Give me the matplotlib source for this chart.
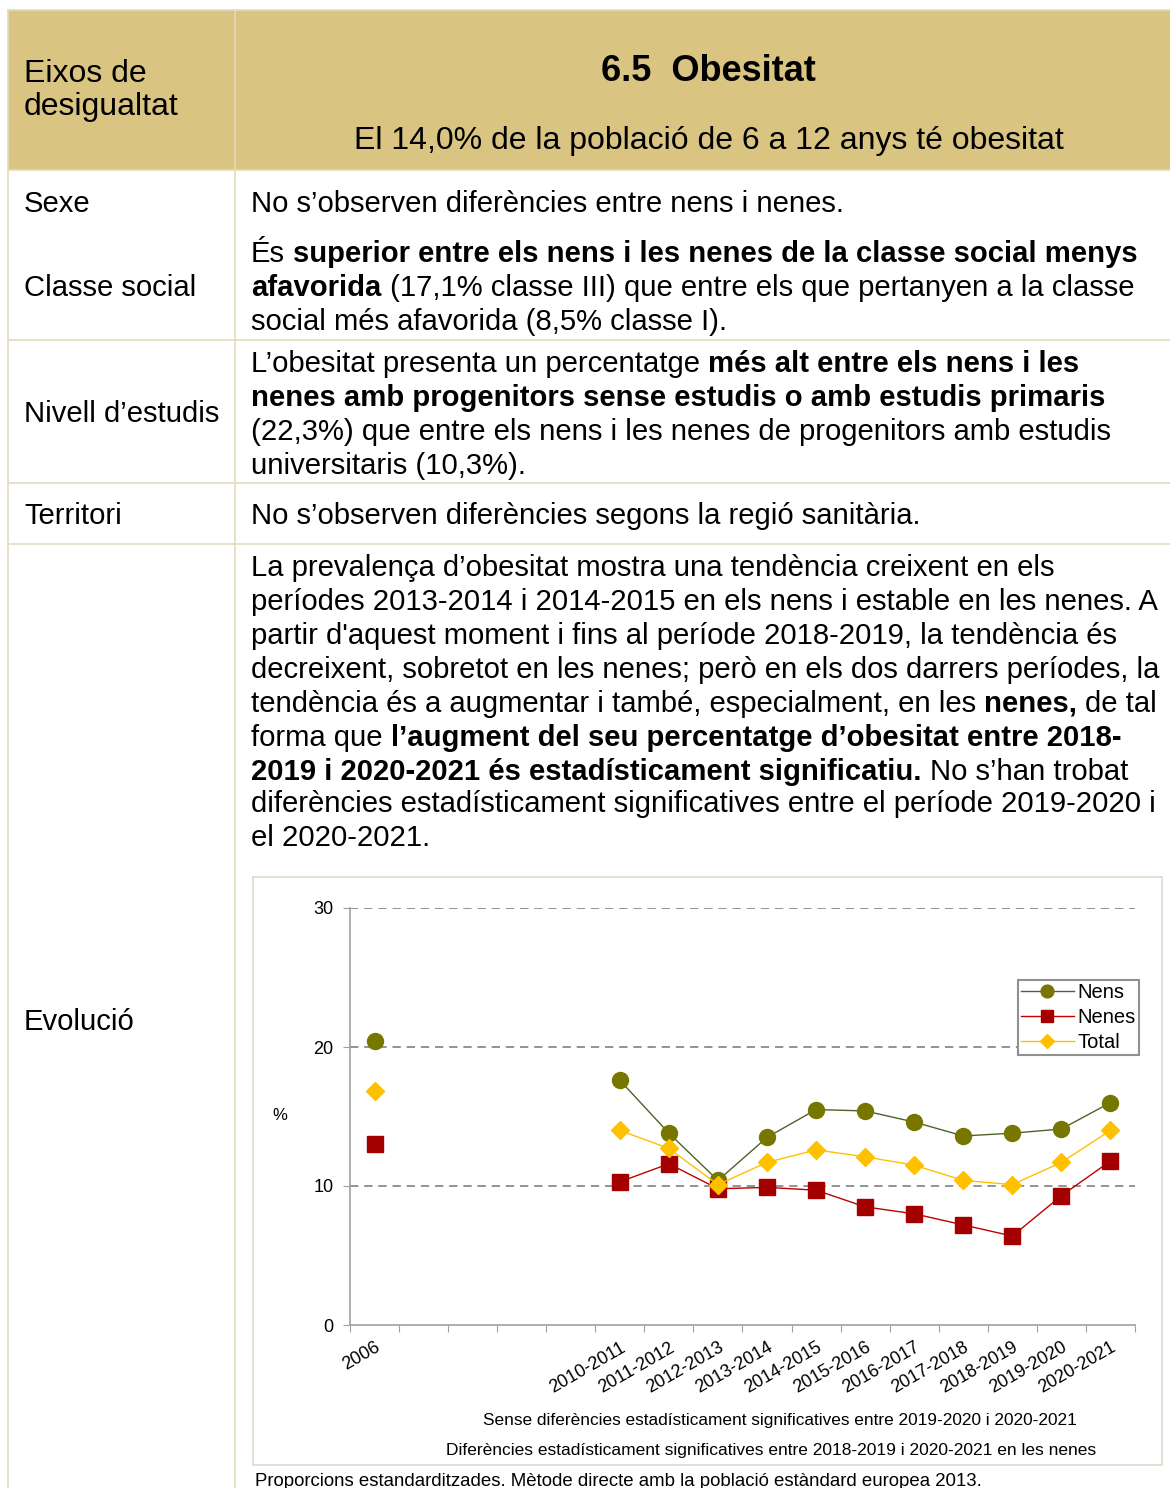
import numpy as np
import matplotlib
matplotlib.use("Agg")
import matplotlib.pyplot as plt
from matplotlib.patches import Rectangle

plt.rcParams['font.family'] = ['Liberation Sans', 'DejaVu Sans']

# ---------------- data ----------------
categories = ["2006", "", "", "", "", "2010-2011", "2011-2012", "2012-2013", "2013-2014",
              "2014-2015", "2015-2016", "2016-2017", "2017-2018", "2018-2019",
              "2019-2020", "2020-2021"]
nan = np.nan
nens = [20.4, nan, nan, nan, nan, 17.6, 13.8, 10.4, 13.5, 15.5, 15.4, 14.6, 13.6, 13.8, 14.1, 16.0]
nenes = [13.0, nan, nan, nan, nan, 10.3, 11.6, 9.8, 9.9, 9.7, 8.5, 8.0, 7.2, 6.4, 9.3, 11.8]
total = [16.8, nan, nan, nan, nan, 14.0, 12.7, 10.1, 11.7, 12.6, 12.1, 11.5, 10.4, 10.1, 11.7, 14.0]
series_names = ["Nens", "Nenes", "Total"]
y_ticks = [0, 10, 20, 30]

title = "6.5  Obesitat"
subtitle = "El 14,0% de la població de 6 a 12 anys té obesitat"
header_left = ["Eixos de", "desigualtat"]
row_labels = ["Sexe", "Classe social", "Nivell d\u2019estudis", "Territori", "Evolució"]

sexe_lines = [[("No s\u2019observen diferències entre nens i nenes.", False)]]
classe_lines = [
    [("És ", False), ("superior entre els nens i les nenes de la classe social menys", True)],
    [("afavorida", True), (" (17,1% classe III) que entre els que pertanyen a la classe", False)],
    [("social més afavorida (8,5% classe I).", False)],
]
nivell_lines = [
    [("L\u2019obesitat presenta un percentatge ", False), ("més alt entre els nens i les", True)],
    [("nenes amb progenitors sense estudis o amb estudis primaris", True)],
    [("(22,3%) que entre els nens i les nenes de progenitors amb estudis", False)],
    [("universitaris (10,3%).", False)],
]
territori_lines = [[("No s\u2019observen diferències segons la regió sanitària.", False)]]
evol_lines = [
    [("La prevalença d\u2019obesitat mostra una tendència creixent en els", False)],
    [("períodes 2013-2014 i 2014-2015 en els nens i estable en les nenes. A", False)],
    [("partir d'aquest moment i fins al període 2018-2019, la tendència és", False)],
    [("decreixent, sobretot en les nenes; però en els dos darrers períodes, la", False)],
    [("tendència és a augmentar i també, especialment, en les ", False), ("nenes,", True), (" de tal", False)],
    [("forma que ", False), ("l\u2019augment del seu percentatge d\u2019obesitat entre 2018-", True)],
    [("2019 i 2020-2021 és estadísticament significatiu.", True), (" No s\u2019han trobat", False)],
    [("diferències estadísticament significatives entre el període 2019-2020 i", False)],
    [("el 2020-2021.", False)],
]
note1 = "Sense diferències estadísticament significatives entre 2019-2020 i 2020-2021"
note2 = "Diferències estadísticament significatives entre 2018-2019 i 2020-2021 en les nenes"
footer = "Proporcions estandarditzades. Mètode directe amb la població estàndard europea 2013."

# ---------------- figure ----------------
W, H = 1170, 1488
fig = plt.figure(figsize=(W / 100, H / 100), dpi=100)
bg = fig.add_axes([0, 0, 1, 1])
bg.set_xlim(0, W)
bg.set_ylim(H, 0)
bg.axis('off')

header_col = '#D9C482'
border_col = '#E3DBBC'
BODY = 21.1
DY = 2.5

# header fill
bg.add_patch(Rectangle((8, 10), W - 8, 160, facecolor=header_col, edgecolor='none', zorder=0))
# borders
for y in [10, 170, 340, 483, 544]:
    bg.plot([8, W], [y, y], color=border_col, lw=1.2, zorder=1)
bg.plot([8, 8], [10, H], color=border_col, lw=1.2, zorder=1)
bg.plot([235, 235], [10, H], color=border_col, lw=1.2, zorder=1)

bg.text(24, 72 + DY, header_left[0], fontsize=23, va='center', ha='left')
bg.text(24, 105 + DY, header_left[1], fontsize=23, va='center', ha='left')
bg.text(708, 69 + DY, title, fontsize=26, fontweight='bold', va='center', ha='center')
bg.text(709, 138 + DY, subtitle, fontsize=23, va='center', ha='center')

for lab, y in zip(row_labels, [201, 286, 412, 514, 1020]):
    bg.text(24, y + DY, lab, fontsize=BODY, va='center', ha='left')

renderer = fig.canvas.get_renderer()
_space = {}


def space_w(bold):
    if bold not in _space:
        w = 'bold' if bold else 'normal'
        t1 = bg.text(0, 0, "a a", fontsize=BODY, fontweight=w)
        t2 = bg.text(0, 0, "aa", fontsize=BODY, fontweight=w)
        _space[bold] = t1.get_window_extent(renderer).width - t2.get_window_extent(renderer).width
        t1.remove(); t2.remove()
    return _space[bold]


def draw_lines(lines, x0, ys):
    for segs, y in zip(lines, ys):
        x = x0
        for s, b in segs:
            lead = len(s) - len(s.lstrip(' '))
            trail = len(s) - len(s.rstrip(' '))
            x += lead * space_w(b)
            core = s.strip(' ')
            t = bg.text(x, y + DY, core, fontsize=BODY, fontweight='bold' if b else 'normal',
                        va='center', ha='left')
            x += t.get_window_extent(renderer).width
            x += trail * space_w(b)


X0 = 251
draw_lines(sexe_lines, X0, [201])
draw_lines(classe_lines, X0, [252, 286, 320])
draw_lines(nivell_lines, X0, [361, 395, 429, 463])
draw_lines(territori_lines, X0, [514])
draw_lines(evol_lines, X0, [566, 600, 634, 667, 701, 735, 769, 802, 836])

# chart frame
bg.add_patch(Rectangle((253, 877), 909, 588, facecolor='white', edgecolor='#DCDACD', lw=1.2, zorder=1))
bg.text(780, 1421, note1, fontsize=12.4, ha='center', va='center')
bg.text(771, 1450, note2, fontsize=12.5, ha='center', va='center')
bg.text(255, 1481, footer, fontsize=13.4, ha='left', va='center')
bg.text(280, 1116, "%", fontsize=12, ha='center', va='center')

# ---------------- chart ----------------
L, R, T, B = 350, 1135, 908, 1325
ax = fig.add_axes([L / W, (H - B) / H, (R - L) / W, (B - T) / H])
ax.set_facecolor('none')
x = np.arange(len(categories))
ax.plot(x, nens, color='#4F6228', lw=1.0, marker='o', ms=11.5, mfc='#777700', mec='#777700',
        label=series_names[0], zorder=3)
ax.plot(x, nenes, color='#C00000', lw=1.0, marker='s', ms=11, mfc='#A50000', mec='#A50000',
        label=series_names[1], zorder=3)
ax.plot(x, total, color='#FFC000', lw=1.0, marker='D', ms=9, mfc='#FFC000', mec='#FFC000',
        label=series_names[2], zorder=4)

ax.set_xlim(-0.5, len(categories) - 0.5)
ax.set_ylim(0, 30)
ax.set_yticks(y_ticks)
ax.set_yticklabels([str(v) for v in y_ticks], fontsize=13)
for v in y_ticks[1:]:
    ax.axhline(v, color='#808080', lw=1.2, ls=(0, (5, 3.5)), zorder=1)
ax.set_xticks(np.arange(len(categories) + 1) - 0.5)
ax.set_xticklabels([''] * (len(categories) + 1))
ax.set_xticks(x, minor=True)
ax.set_xticklabels(categories, minor=True, rotation=30, ha='right', rotation_mode='anchor', fontsize=13)
ax.tick_params(axis='x', which='major', length=5, color='#A0A0A0', direction='out')
ax.tick_params(axis='x', which='minor', length=0, pad=10)
ax.tick_params(axis='y', length=5, color='#A0A0A0', pad=7)
for s in ['top', 'right']:
    ax.spines[s].set_visible(False)
for s in ['left', 'bottom']:
    ax.spines[s].set_color('#A0A0A0')
    ax.spines[s].set_linewidth(1.2)

leg = ax.legend(loc='upper right', bbox_to_anchor=(1.005, 0.828), fontsize=14.5, frameon=True,
                fancybox=False, edgecolor='#909090', framealpha=1, borderpad=0.15,
                labelspacing=0.3, handlelength=2.6, handletextpad=0.2, borderaxespad=0,
                markerscale=0.8)
leg.get_frame().set_linewidth(1.5)

fig.savefig("out.png", dpi=100)
